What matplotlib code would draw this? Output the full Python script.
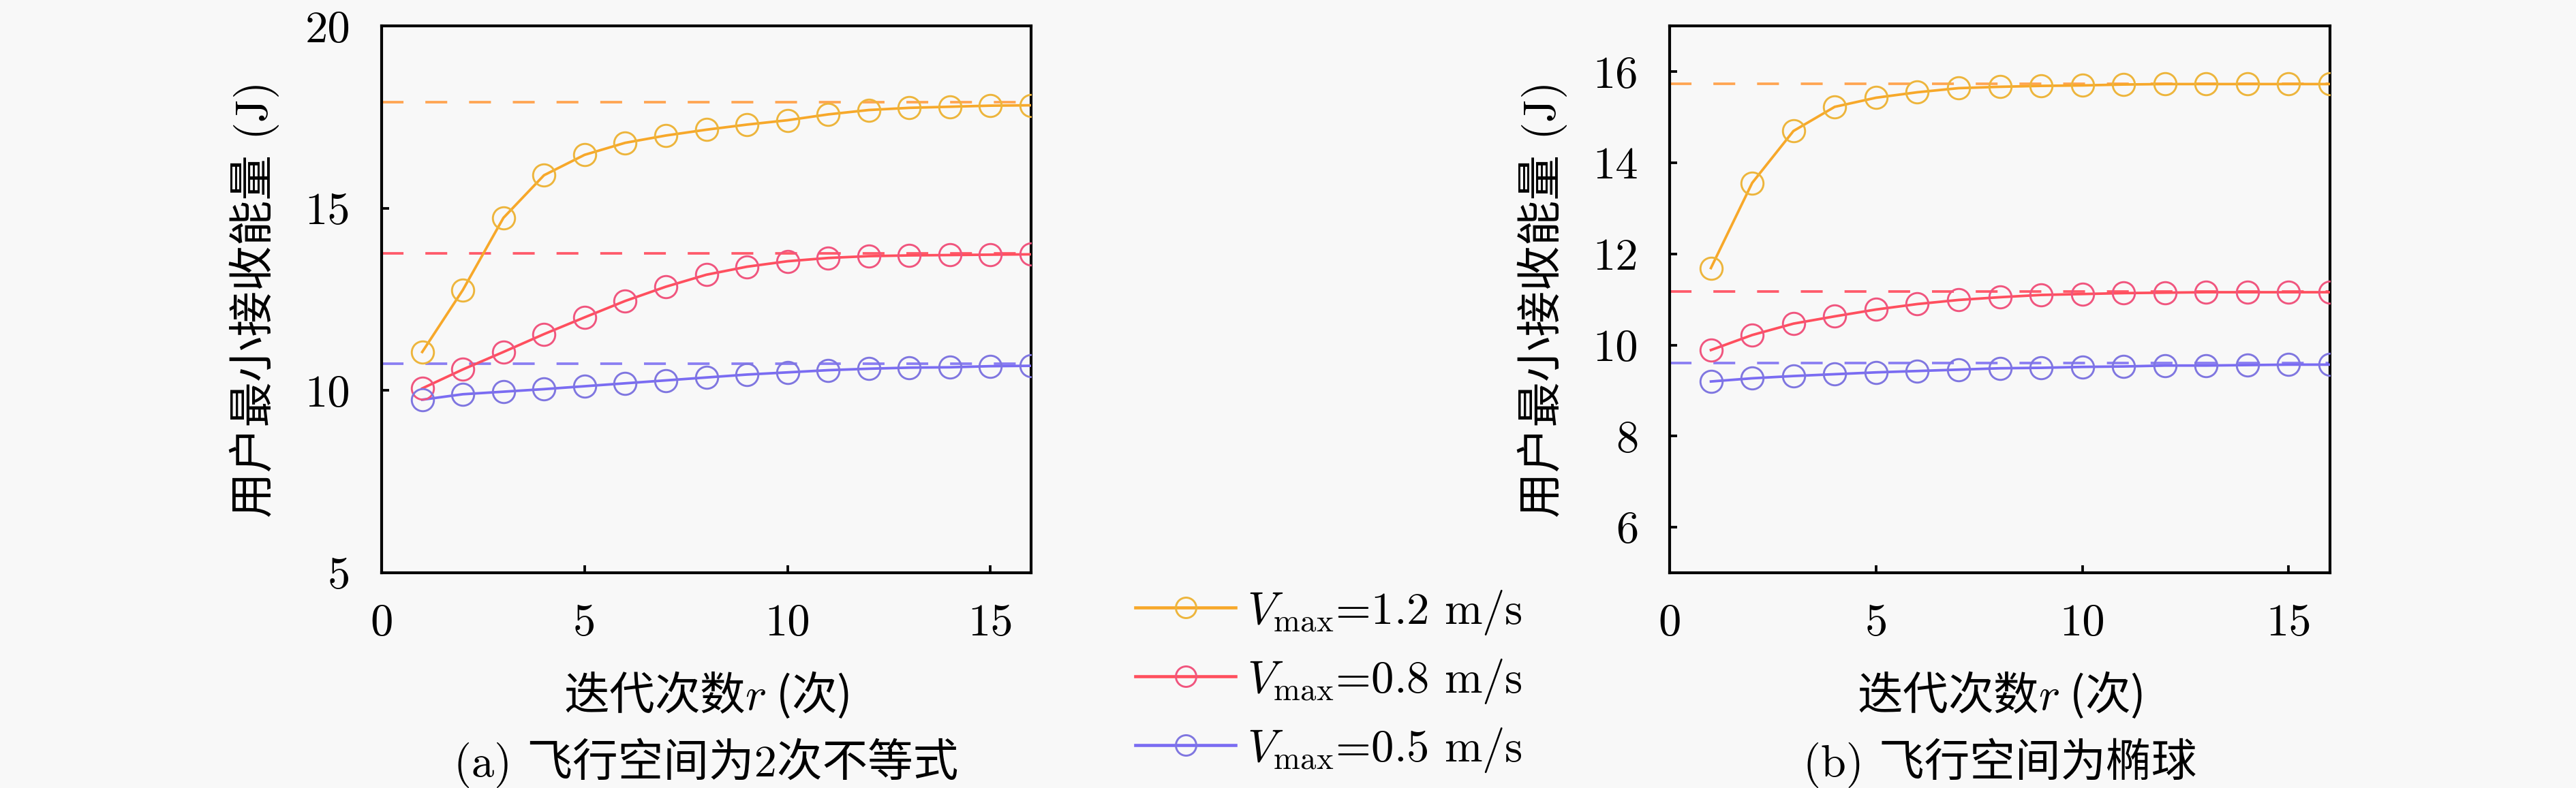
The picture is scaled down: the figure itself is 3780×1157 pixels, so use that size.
import matplotlib
matplotlib.use("Agg")
import matplotlib.pyplot as plt
from matplotlib.lines import Line2D

plt.rcParams['font.family'] = ['cmr10', 'Noto Sans CJK SC', 'DejaVu Sans']
plt.rcParams['mathtext.fontset'] = 'cm'
plt.rcParams['axes.unicode_minus'] = False
plt.rcParams['lines.scale_dashes'] = False

# ---------------- data ----------------
iterations = list(range(1, 17))

# (a) flight space: quadratic inequality
a_v12 = [11.06, 12.76, 14.74, 15.91, 16.47, 16.80, 17.00, 17.16,
         17.30, 17.42, 17.58, 17.70, 17.76, 17.79, 17.82, 17.83]
a_v08 = [10.06, 10.58, 11.06, 11.55, 12.01, 12.46, 12.85, 13.18,
         13.40, 13.55, 13.64, 13.69, 13.71, 13.72, 13.73, 13.74]
a_v05 = [9.75, 9.90, 9.97, 10.04, 10.12, 10.20, 10.28, 10.36,
         10.44, 10.50, 10.56, 10.60, 10.63, 10.64, 10.67, 10.68]
a_ref = [17.92, 13.77, 10.74]   # dashed reference levels

# (b) flight space: ellipsoid
b_v12 = [11.69, 13.56, 14.70, 15.23, 15.43, 15.55, 15.64, 15.67,
         15.69, 15.70, 15.72, 15.73, 15.73, 15.73, 15.73, 15.73]
b_v08 = [9.89, 10.22, 10.47, 10.63, 10.78, 10.90, 10.99, 11.05,
         11.10, 11.12, 11.14, 11.15, 11.16, 11.16, 11.16, 11.16]
b_v05 = [9.20, 9.27, 9.32, 9.36, 9.40, 9.43, 9.46, 9.49,
         9.50, 9.52, 9.53, 9.55, 9.55, 9.56, 9.57, 9.57]
b_ref = [15.74, 11.17, 9.61]

series_labels = [r'$V_{\max}$=1.2 m/s', r'$V_{\max}$=0.8 m/s', r'$V_{\max}$=0.5 m/s']

a_yticks = [5, 10, 15, 20]
b_yticks = [6, 8, 10, 12, 14, 16]
xticks = [0, 5, 10, 15]

xlabel = '迭代次数$r$ (次)'
ylabel = '用户最小接收能量 (J)'
captions = ['(a) 飞行空间为2次不等式', '(b) 飞行空间为椭球']

# ---------------- style ----------------
line_colors = ['#F7A82A', '#FF4F5E', '#7A6CF2']
marker_colors = ['#EDB53C', '#F0557E', '#7F76E0']
dash_colors = ['#FFA552', '#FF5A6A', '#8A7EF2']
bg = '#F8F8F8'
FS = 16

fig = plt.figure(figsize=(12.6, 3.8567), dpi=300, facecolor=bg)
W, H = 3780.0, 1157.0
ax_a = fig.add_axes([560 / W, 1 - 841 / H, (1513 - 560) / W, (841 - 38.5) / H])
ax_b = fig.add_axes([2450 / W, 1 - 841 / H, (3419 - 2450) / W, (841 - 38.5) / H])

panels = [
    (ax_a, [a_v12, a_v08, a_v05], a_ref, (5, 20), a_yticks, captions[0]),
    (ax_b, [b_v12, b_v08, b_v05], b_ref, (5, 17), b_yticks, captions[1]),
]

for ax, series, refs, ylim, yticks, cap in panels:
    ax.set_facecolor(bg)
    for i, (ys, ref) in enumerate(zip(series, refs)):
        ax.plot(iterations, ys, color=line_colors[i], lw=0.9, zorder=3)
        ax.plot(iterations, ys, ls='none', marker='o', ms=7.8,
                mfc='none', mec=marker_colors[i], mew=0.7, zorder=4)
        ax.axhline(ref, color=dash_colors[i], lw=0.9, dashes=(7.7, 7.7), zorder=2)
    ax.set_xlim(0, 16)
    ax.set_ylim(*ylim)
    ax.set_xticks(xticks)
    ax.set_yticks(yticks)
    ax.tick_params(direction='in', length=2.6, width=0.9, labelsize=FS, pad=11,
                   top=False, right=False)
    for sp in ax.spines.values():
        sp.set_linewidth(1.0)
        sp.set_color('black')
    ax.set_ylabel(ylabel, fontsize=FS, labelpad=9)
    ax.set_xlabel(xlabel, fontsize=FS, labelpad=9, family='Noto Sans CJK SC')
    pos = ax.get_position()
    fig.text((pos.x0 + pos.x1) / 2, 1 - 1120 / H, cap, fontsize=FS,
             ha='center', va='center')

handles = [Line2D([], [], color=line_colors[i], lw=1.1, marker='o', ms=7.2,
                  mfc='none', mec=marker_colors[i], mew=0.7)
           for i in range(3)]
fig.legend(handles, series_labels, loc='center', bbox_to_anchor=(1950 / W, 1 - 1000 / H),
           frameon=False, fontsize=FS, handlelength=2.2, handletextpad=0.25,
           labelspacing=0.45, borderpad=0.0)

fig.savefig('out.png', dpi=300, facecolor=bg)
